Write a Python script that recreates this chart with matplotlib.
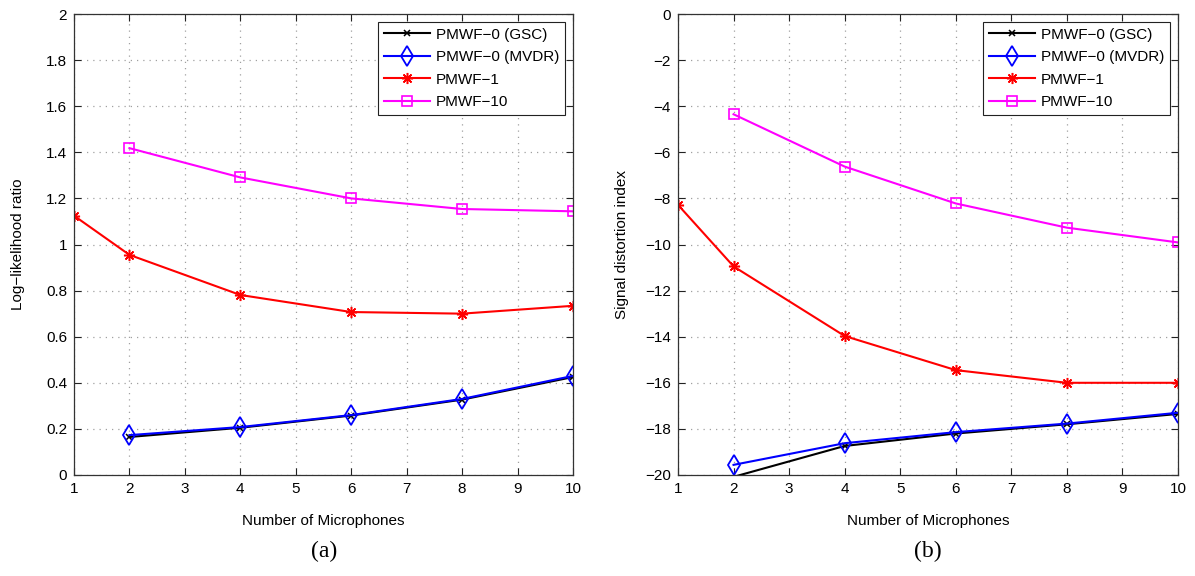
import matplotlib
matplotlib.use('Agg')
import matplotlib.pyplot as plt
from matplotlib.ticker import FuncFormatter
import numpy as np

plt.rcParams['font.family'] = ['Liberation Sans', 'DejaVu Sans']
plt.rcParams['font.size'] = 11

# number of microphones on the x axis
mics = [2, 4, 6, 8, 10]
mics_all = [1, 2, 4, 6, 8, 10]

# (a) log-likelihood ratio
llr_gsc = [0.165, 0.205, 0.258, 0.327, 0.425]
llr_mvdr = [0.173, 0.208, 0.260, 0.330, 0.430]
llr_pmwf1 = [1.125, 0.955, 0.781, 0.707, 0.700, 0.734]
llr_pmwf10 = [1.418, 1.291, 1.200, 1.154, 1.144]

# (b) signal distortion index
sdi_gsc = [-20.08, -18.74, -18.20, -17.80, -17.35]
sdi_mvdr = [-19.56, -18.62, -18.14, -17.77, -17.30]
sdi_pmwf1 = [-8.28, -10.95, -13.97, -15.45, -16.00, -16.00]
sdi_pmwf10 = [-4.35, -6.62, -8.22, -9.27, -9.91]

labels = ['PMWF\u22120 (GSC)', 'PMWF\u22120 (MVDR)', 'PMWF\u22121', 'PMWF\u221210']

W, H = 1195, 576
fig = plt.figure(figsize=(W / 100, H / 100), dpi=100)


def fmt(v, pos):
    return '{:g}'.format(round(v, 6)).replace('-', '\u2212')


def panel(rect, ys, ylim, yticks, ylabel, tag, tag_x):
    ax = fig.add_axes(rect)
    lo = ylim[0]

    # skip markers that fall below the axis
    def inside(y):
        return [i for i, v in enumerate(y) if v >= lo]

    gsc, mvdr, p1, p10 = ys
    ax.plot(mics, gsc, color='k', lw=1.5, marker='x', ms=5, mew=1.1,
            markevery=inside(gsc), label=labels[0])
    ax.plot(mics, mvdr, color='#0000ff', lw=1.5, marker='d', ms=10,
            mfc='none', mew=1.3, markevery=inside(mvdr), label=labels[1])
    ax.plot(mics_all, p1, color='#ff0000', lw=1.5, marker=(8, 2, 0), ms=8,
            mew=1.1, label=labels[2])
    ax.plot(mics, p10, color='#ff00ff', lw=1.5, marker='s', ms=7,
            mfc='none', mew=1.2, label=labels[3])

    ax.set_xlim(1, 10)
    ax.set_ylim(*ylim)
    ax.set_xticks(range(1, 11))
    ax.set_yticks(yticks)
    ax.yaxis.set_major_formatter(FuncFormatter(fmt))
    ax.tick_params(direction='in', length=5, width=0.8, top=True, right=True,
                   labelsize=11, pad=5, colors='#222222', labelcolor='k')
    for s in ax.spines.values():
        s.set_color('#333333')
        s.set_linewidth(0.9)
    ax.grid(True, color='#a0a0a0', linestyle=(0, (1, 4)), linewidth=0.9)

    ax.set_xlabel('Number of Microphones', fontsize=11)
    ax.set_ylabel(ylabel, fontsize=11)
    ax.xaxis.set_label_coords(0.5, -0.1)
    ax.xaxis.label.set_va('center')
    ax.yaxis.set_label_coords(-0.112, 0.5)
    ax.yaxis.label.set_va('center')

    leg = ax.legend(loc='upper right', fontsize=11, fancybox=False,
                    framealpha=1, edgecolor='#222222', handlelength=3.0,
                    labelspacing=0.55, borderpad=0.4, borderaxespad=0.5,
                    handletextpad=0.4)
    leg.get_frame().set_linewidth(0.8)

    fig.text(tag_x / W, 1 - 551 / H, tag, ha='center', va='center',
             fontsize=17, family=['Liberation Serif', 'DejaVu Serif'])
    return ax


rect_a = [74 / W, (H - 475) / H, 499 / W, 461 / H]
rect_b = [678 / W, (H - 475) / H, 500 / W, 461 / H]

panel(rect_a, (llr_gsc, llr_mvdr, llr_pmwf1, llr_pmwf10), (0, 2),
      np.arange(0, 2.01, 0.2), 'Log\u2212likelihood ratio', '(a)', 324)
panel(rect_b, (sdi_gsc, sdi_mvdr, sdi_pmwf1, sdi_pmwf10), (-20, 0),
      np.arange(-20, 0.1, 2), 'Signal distortion index', '(b)', 928)

fig.savefig('out.png', dpi=100)
